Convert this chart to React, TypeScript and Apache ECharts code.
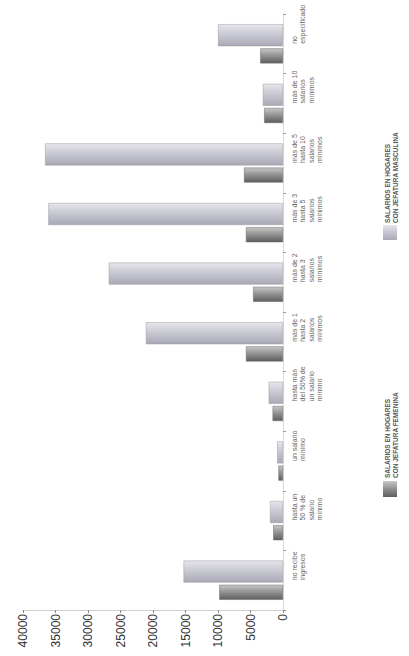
import React, { useEffect, useRef } from "react";
import * as echarts from "echarts";

const categories = [
  "no recibe\ningresos",
  "hasta un\n50 % de\nsalario\nmínimo",
  "un salario\nmínimo",
  "hasta más\ndel 50% de\nun salario\nmínimo",
  "más de 1\nhasta 2\nsalarios\nmínimos",
  "más de 2\nhasta 3\nsalarios\nmínimos",
  "más de 3\nhasta 5\nsalarios\nmínimos",
  "más de 5\nhasta 10\nsalarios\nmínimos",
  "más de 10\nsalarios\nmínimos",
  "no\nespecificado",
];

const maleValues = [15300, 2000, 900, 2200, 21100, 26800, 36100, 36600, 3100, 10000];
const femaleValues = [9800, 1500, 700, 1600, 5700, 4600, 5700, 6000, 2900, 3500];

const seriesNames = [
  "SALARIOS EN HOGARES\nCON JEFATURA MASCULINA",
  "SALARIOS EN HOGARES\nCON JEFATURA FEMENINA",
];

const FONT = "Liberation Sans, Arial, sans-serif";

export default function App() {
  const ref = useRef<HTMLDivElement>(null);

  useEffect(() => {
    if (!ref.current) return;
    const chart = echarts.init(ref.current, undefined, { renderer: "svg" });

    const maleGrad = new echarts.graphic.LinearGradient(0, 0, 0, 1, [
      { offset: 0, color: "#e6e6ec" },
      { offset: 0.35, color: "#cfcfd8" },
      { offset: 1, color: "#a9a9b6" },
    ]);
    const femaleGrad = new echarts.graphic.LinearGradient(0, 0, 0, 1, [
      { offset: 0, color: "#c8c8c8" },
      { offset: 0.4, color: "#9a9a9a" },
      { offset: 1, color: "#5e5e5e" },
    ]);

    const legendText = (x: number, y: number, text: string) => ({
      type: "text",
      x,
      y,
      rotation: Math.PI / 2,
      style: {
        text,
        font: `bold 6.5px ${FONT}`,
        lineHeight: 8,
        fill: "#555",
        align: "left",
        verticalAlign: "top",
      },
    });

    chart.setOption({
      animation: false,
      backgroundColor: "#ffffff",
      grid: { left: 23, right: 126, top: 14, bottom: 46, containLabel: false },
      xAxis: {
        type: "value",
        inverse: true,
        position: "bottom",
        min: 0,
        max: 40000,
        interval: 5000,
        axisLine: { show: true, lineStyle: { color: "#d0d0d0" } },
        axisTick: { show: true, length: 3, lineStyle: { color: "#888" } },
        splitLine: { show: false },
        axisLabel: {
          rotate: 90,
          margin: 4,
          fontSize: 12,
          color: "#333",
          fontFamily: FONT,
          formatter: (v: number) => String(v),
        },
      },
      yAxis: {
        type: "category",
        position: "right",
        data: categories,
        axisLine: { show: true, lineStyle: { color: "#d8d8d8" } },
        axisTick: { show: true, length: 3, lineStyle: { color: "#999" } },
        axisLabel: {
          rotate: 90,
          margin: 7,
          fontSize: 7,
          lineHeight: 8.5,
          color: "#666",
          fontFamily: FONT,
          align: "left",
          verticalAlign: "top",
        },
      },
      series: [
        {
          name: seriesNames[0],
          type: "bar",
          data: maleValues,
          barWidth: 22,
          barGap: "10%",
          itemStyle: { color: maleGrad, borderColor: "#9a9aa6", borderWidth: 0.5 },
        },
        {
          name: seriesNames[1],
          type: "bar",
          data: femaleValues,
          barWidth: 15,
          barGap: "10%",
          itemStyle: { color: femaleGrad, borderColor: "#666", borderWidth: 0.5 },
        },
      ],
      graphic: [
        {
          type: "rect",
          shape: { x: 383, y: 225, width: 14, height: 15 },
          style: { fill: maleGrad },
        },
        legendText(383, 223, seriesNames[0]),
        {
          type: "rect",
          shape: { x: 383, y: 481, width: 14, height: 16 },
          style: { fill: femaleGrad },
        },
        legendText(383, 478, seriesNames[1]),
      ],
    });

    return () => chart.dispose();
  }, []);

  return (
    <div
      ref={ref}
      style={{ position: "absolute", left: 0, top: 0, width: 409, height: 656 }}
    />
  );
}
